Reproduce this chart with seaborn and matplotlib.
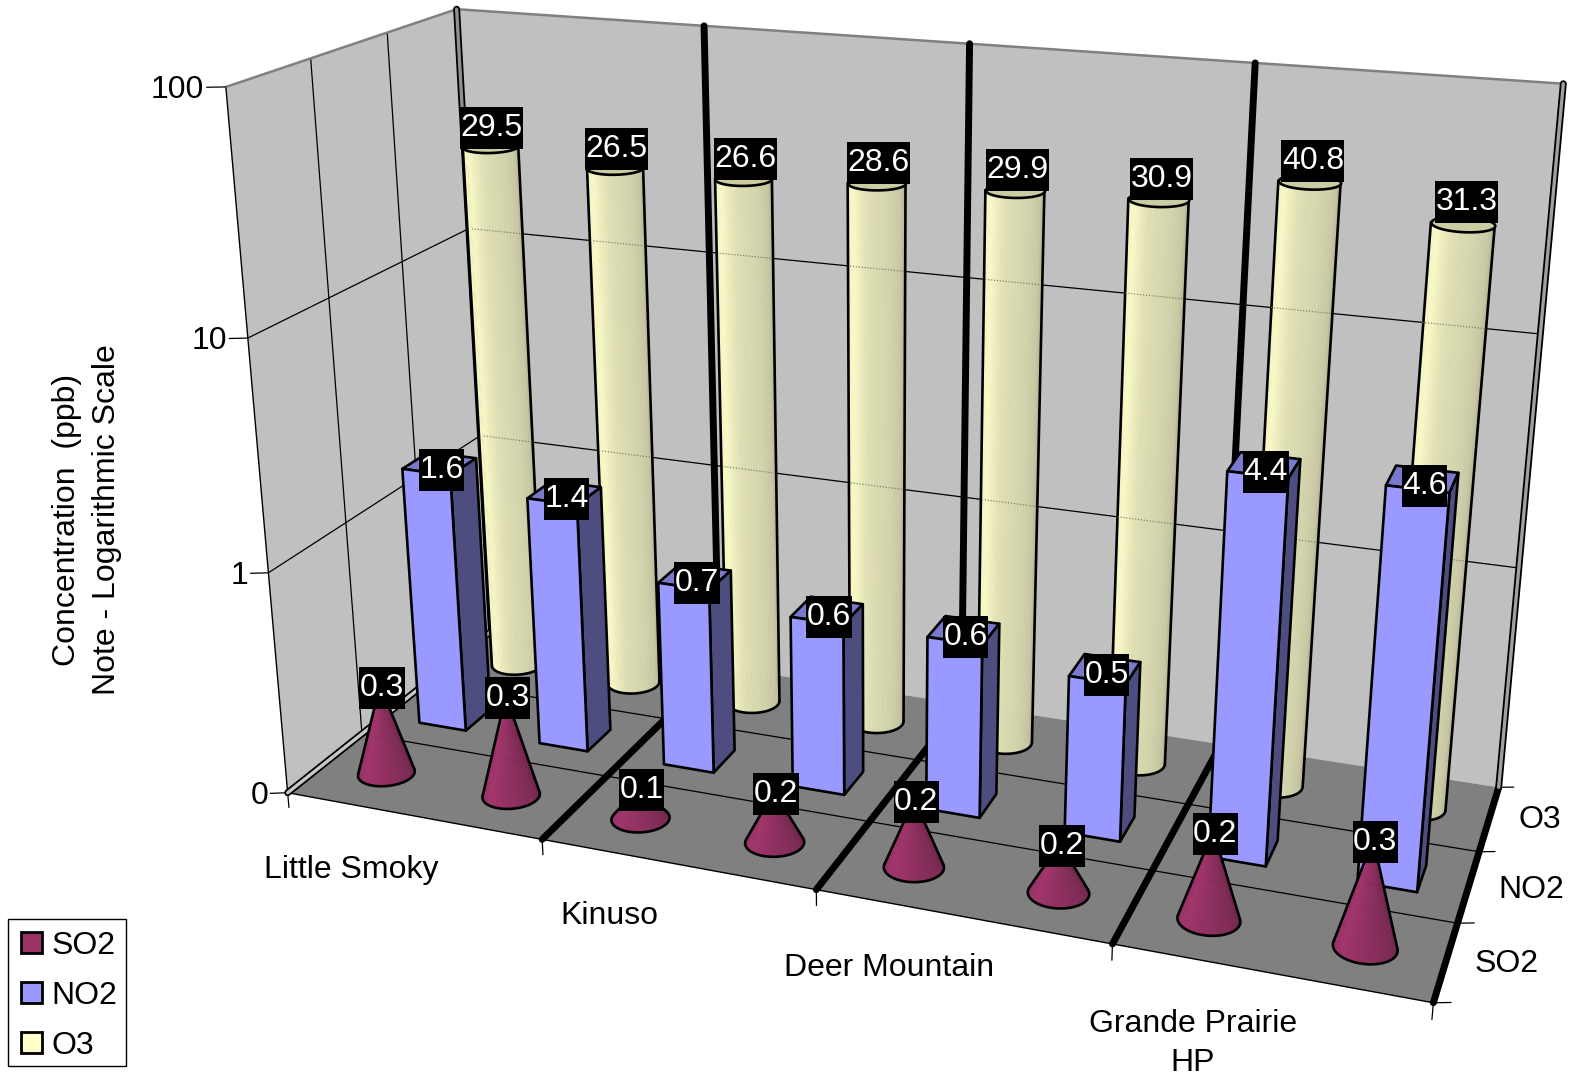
import numpy as np
import matplotlib
matplotlib.use('Agg')
import matplotlib.pyplot as plt
from matplotlib.patches import Patch
from matplotlib.path import Path
from mpl_toolkits.mplot3d import proj3d
from mpl_toolkits.mplot3d.art3d import Poly3DCollection
import seaborn as sns

# data
stations = ['Little Smoky', 'Kinuso', 'Deer Mountain', 'Grande Prairie\nHP']
gases = ['SO2', 'NO2', 'O3']
so2 = [0.26, 0.29, 0.14, 0.17, 0.20, 0.165, 0.24, 0.285]
no2 = [1.6, 1.4, 0.7, 0.6, 0.6, 0.5, 4.4, 4.6]
o3 = [29.5, 26.5, 26.6, 28.6, 29.9, 30.9, 40.8, 31.3]
z_ticks = [0.1, 1, 10, 100]
z_tick_labels = ['0', '1', '10', '100']
station_label_x = [1.0, 2.88, 4.78, 6.74]
station_label_y = [-0.81, -0.77, -0.75, -0.93]
gas_label_x = [8.36, 8.39, 8.33]

# camera: data point (column, gas, log10 value) -> pixel in the 1572x1076 picture
camera_fit = [
    ((0, 0, -1), (288, 792)), ((2, 0, -1), (543, 839)), ((4, 0, -1), (817, 890)),
    ((6, 0, -1), (1113, 945)), ((8, 0, -1), (1434, 1003)), ((8, 1, -1), (1457, 923)),
    ((8, 2, -1), (1477, 852)), ((8, 3, -1), (1500, 787)), ((4, 3, -1), (961, 704)),
    ((0, 3, -1), (491, 632)), ((0, 0, 2), (225, 88)), ((0, 0, 1), (247, 338)),
    ((0, 0, 0), (268, 571)), ((0, 1, 2), (311, 59)), ((0, 2, 2), (387, 33)),
    ((0, 3, 2), (457, 9)), ((2, 3, 2), (705, 25)), ((4, 3, 2), (970, 44)),
    ((6, 3, 2), (1255, 63)), ((8, 3, 2), (1563, 83)),
]

W, H = 1572, 1076
sns.set_theme(style='white')
plt.rcParams['font.family'] = ['Liberation Sans', 'DejaVu Sans']
FS = 23

fig = plt.figure(figsize=(W / 100, H / 100), dpi=100)
h = W / H
ax = fig.add_axes([0, 0.5 - h / 2, 1, h], projection='3d', proj_type='ortho', computed_zorder=False)
ax.set_axis_off()
ax.patch.set_alpha(0)
ax.apply_aspect()


def fit_camera():
    inv = ax.transData.inverted()
    rows = []
    for (x, y, z), (px, py) in camera_fit:
        u, v = inv.transform((px, H - py))
        rows.append([x, y, z, 1, 0, 0, 0, 0, -u * x, -u * y, -u * z, -u])
        rows.append([0, 0, 0, 0, x, y, z, 1, -v * x, -v * y, -v * z, -v])
    p = np.linalg.svd(np.array(rows))[2][-1].reshape(3, 4)
    if p[2] @ np.array([4, 1.5, 0.5, 1]) < 0:
        p = -p
    return np.array([p[0], p[1], [0, 1, 0, 0], p[2]])


M = fit_camera()
ax.get_proj = lambda: M
ax.M = M


def screen(x, y, z):
    px, py, _ = proj3d.proj_transform(np.asarray(x), np.asarray(y), np.asarray(z), M)
    return np.asarray(px), np.asarray(py)


def log_z(v):
    return np.log10(v)


def label(x, y, z, s, offset=(0, 0), **kw):
    px, py = screen(float(x), float(y), float(z))
    return ax.annotate(s, xy=(float(px), float(py)), xycoords='data', xytext=offset, textcoords='offset points',
                       fontsize=FS, va='center', zorder=20, **kw)


FLOOR = -1
TOP = 2
BLACK_LW = 5

# walls and floor
walls = [
    [(0, 0, FLOOR), (0, 3, FLOOR), (0, 3, TOP), (0, 0, TOP)],
    [(0, 3, FLOOR), (8, 3, FLOOR), (8, 3, TOP), (0, 3, TOP)],
]
ax.add_collection3d(Poly3DCollection(walls, facecolors='#c0c0c0', edgecolors='none', zorder=1))
ax.add_collection3d(Poly3DCollection([[(0, 0, FLOOR), (8, 0, FLOOR), (8, 3, FLOOR), (0, 3, FLOOR)]],
                                     facecolors='#808080', edgecolors='none', zorder=1))

# gridlines
for t in z_ticks[1:3]:
    z = log_z(t)
    ax.plot([0, 0, 8], [0, 3, 3], [z, z, z], color='black', lw=0.9, zorder=2)
for y in [1, 2]:
    ax.plot([0, 0], [y, y], [FLOOR, TOP], color='black', lw=0.9, zorder=2)
    ax.plot([0, 8], [y, y], [FLOOR, FLOOR], color='black', lw=0.9, zorder=2)
ax.plot([0, 0], [0, 0], [FLOOR, TOP], color='black', lw=1.0, zorder=2)
ax.plot([0, 8], [0, 0], [FLOOR, FLOOR], color='black', lw=1.0, zorder=2)
ax.plot([0, 0, 8], [0, 3, 3], [TOP, TOP, TOP], color='#808080', lw=1.8, zorder=2)

# thick station dividers
for x in [0, 2, 4, 6, 8]:
    ax.plot([x, x], [0, 3], [FLOOR, FLOOR], color='black', lw=BLACK_LW, solid_capstyle='round', zorder=2.1)
    ax.plot([x, x], [3, 3], [FLOOR, TOP], color='black', lw=BLACK_LW, solid_capstyle='round', zorder=2.1)
ax.plot([0, 0], [0, 3], [FLOOR, FLOOR], color='#c8c8c8', lw=2.4, zorder=2.2)
ax.plot([0, 0], [3, 3], [FLOOR, TOP], color='#909090', lw=2.4, zorder=2.2)
ax.plot([8, 8], [3, 3], [FLOOR, TOP], color='#a0a0a0', lw=2.4, zorder=2.2)

# tick marks
for t in z_ticks:
    z = log_z(t)
    ax.plot([0, -0.11], [0, -0.05], [z, z], color='black', lw=0.9, zorder=2)
for x in [0, 2, 4, 6, 8]:
    ax.plot([x, x], [0, 0], [FLOOR, FLOOR - 0.07], color='black', lw=0.9, zorder=2)
for y in [0, 1, 2, 3]:
    ax.plot([8, 8.1], [y, y + 0.04], [FLOOR, FLOOR], color='black', lw=0.9, zorder=2)

R = 0.2
order = 3.0


def next_z():
    global order
    order += 0.01
    return order


def front_arc(cx, cy, theta_l, theta_r, n=50):
    t = np.linspace(theta_l, theta_r, n)
    return cx + R * np.cos(t), cy + R * np.sin(t)


def circle_angles():
    return np.linspace(np.pi * 0.5, np.pi * 2.5, 361)[:-1]


def surface(xs, ys, zs, palette):
    colors = np.array(sns.blend_palette(palette, xs.shape[1]))
    colors = np.c_[colors, np.ones(len(colors))]
    fc = np.repeat(colors[None, :, :], xs.shape[0], axis=0)
    ax.plot_surface(xs, ys, zs, facecolors=fc, shade=False, rstride=1, cstride=1,
                    linewidth=0.4, zorder=next_z())


O3_SHADE = ['#f0f0c0', '#fbfbc8', '#e0e0b4', '#d6d6ae', '#c8c8a4', '#9f9f80']
SO2_SHADE = ['#8f2f60', '#a3356c', '#8f2f60', '#7d2a55', '#632145']

# O3 cylinders
wall_x = np.linspace(0, 8, 801)
for i, v in enumerate(o3):
    cx, cy, zt = i + 0.5, 2.5, log_z(v)
    t = circle_angles()
    bx, by = cx + R * np.cos(t), cy + R * np.sin(t)
    sx, sy = screen(bx, by, np.full(t.size, float(FLOOR)))
    tx, ty = screen(bx, by, np.full(t.size, zt))
    ax_dir = np.array([tx.mean() - sx.mean(), ty.mean() - sy.mean()])
    s = sx * ax_dir[1] - sy * ax_dir[0]
    tl, tr = t[np.argmin(s)], t[np.argmax(s)]
    tr = tr if tr > tl else tr + 2 * np.pi
    ax_x, ax_y = front_arc(cx, cy, tl, tr)
    xs = np.array([ax_x, ax_x])
    ys = np.array([ax_y, ax_y])
    zs = np.array([np.full(ax_x.size, float(FLOOR)), np.full(ax_x.size, zt)])
    surface(xs, ys, zs, O3_SHADE)
    ax.plot(ax_x, ax_y, FLOOR, color='black', lw=1.9, zorder=next_z())
    for k in [0, -1]:
        ax.plot([ax_x[k], ax_x[k]], [ax_y[k], ax_y[k]], [FLOOR, zt], color='black', lw=1.9, zorder=next_z())
    ax.add_collection3d(Poly3DCollection([list(zip(bx, by, np.full(t.size, zt)))], facecolors='#cccca3',
                                         edgecolors='black', linewidths=1.9, zorder=next_z()))
    # wall gridlines faintly seen through the cylinder
    for g in z_ticks[1:3]:
        zg = log_z(g)
        wx = screen(wall_x, np.full(wall_x.size, 3.0), np.full(wall_x.size, zg))[0]
        edges = screen(np.array([cx - R, cx + R]), np.array([cy, cy]), np.array([zg, zg]))[0]
        ax.plot(np.interp(edges, wx, wall_x), [3, 3], [zg, zg], color='#777766', lw=0.8, ls=':', zorder=next_z())

# NO2 bars
BW, BD = 0.39, 0.38
for i, v in enumerate(no2):
    x0, x1 = i + 0.5 - BW / 2, i + 0.5 + BW / 2
    y0, y1 = 1.5 - BD / 2, 1.5 + BD / 2
    zt = log_z(v)
    faces = [
        [(x0, y0, zt), (x1, y0, zt), (x1, y1, zt), (x0, y1, zt)],
        [(x0, y0, FLOOR), (x1, y0, FLOOR), (x1, y0, zt), (x0, y0, zt)],
        [(x1, y0, FLOOR), (x1, y1, FLOOR), (x1, y1, zt), (x1, y0, zt)],
    ]
    ax.add_collection3d(Poly3DCollection(faces, facecolors=['#7a7acc', '#9999ff', '#4d4d80'],
                                         edgecolors='black', linewidths=1.9, zorder=next_z()))

# SO2 cones
for i, v in enumerate(so2):
    cx, cy, zt = i + 0.5, 0.5, log_z(v)
    t = circle_angles()
    bx, by = cx + R * np.cos(t), cy + R * np.sin(t)
    sx, sy = screen(bx, by, np.full(t.size, float(FLOOR)))
    ax0, ay0 = screen(cx, cy, zt)
    ang = np.arctan2(sx - ax0, ay0 - sy)
    tl, tr = t[np.argmin(ang)], t[np.argmax(ang)]
    tr = tr if tr > tl else tr + 2 * np.pi
    ax_x, ax_y = front_arc(cx, cy, tl, tr)
    xs = np.array([ax_x, np.full(ax_x.size, cx)])
    ys = np.array([ax_y, np.full(ax_x.size, cy)])
    zs = np.array([np.full(ax_x.size, float(FLOOR)), np.full(ax_x.size, zt)])
    surface(xs, ys, zs, SO2_SHADE)
    ax.plot(ax_x, ax_y, FLOOR, color='black', lw=1.9, zorder=next_z())
    for k in [0, -1]:
        ax.plot([ax_x[k], cx], [ax_y[k], cy], [FLOOR, zt], color='black', lw=1.9, zorder=next_z())


def label_box(x0, y0, w, h, mutation_size):
    # text bbox with more padding above and below than at the sides
    pad_x, pad_y = 0.5, 6
    x0, x1 = x0 - pad_x, x0 + w + pad_x
    y0, y1 = y0 - pad_y, y0 + h + pad_y
    return Path([(x0, y0), (x1, y0), (x1, y1), (x0, y1), (x0, y0)], closed=True)


# value labels
box = dict(boxstyle=label_box, facecolor='black', edgecolor='black', linewidth=0)
lift = {'SO2': 0.0, 'NO2': -0.015, 'O3': 0.095}
for gas, vals, y in zip(gases, [so2, no2, o3], [0.5, 1.5, 2.5]):
    for i, v in enumerate(vals):
        label(i + 0.5, y, log_z(v) + lift[gas], f'{v:.1f}', offset=(1.5, -2), color='white', ha='center', bbox=box)

# axis labels
for t, lab in zip(z_ticks, z_tick_labels):
    label(-0.125, -0.055, log_z(t), lab, offset=(0, -2), color='black', ha='right')
for x, y, st in zip(station_label_x, station_label_y, stations):
    label(x, y, FLOOR, st, color='black', ha='center', linespacing=1.42)
for x, gas, y in zip(gas_label_x, gases, [0.6, 1.6, 2.6]):
    label(x, y, FLOOR, gas, color='black', ha='center')

fig.text(87 / W, 1 - 520 / H, 'Concentration  (ppb)\nNote - Logarithmic Scale', rotation=90,
         color='black', fontsize=FS, ha='center', va='center', linespacing=1.4)

handles = [Patch(facecolor=c, edgecolor='black', linewidth=2) for c in ['#993366', '#9999ff', '#ffffcc']]
leg = fig.legend(handles, gases, loc='lower left', bbox_to_anchor=(8 / W, 1 - 1066 / H), borderaxespad=0,
                 fontsize=FS, frameon=True, fancybox=False, edgecolor='black', framealpha=1,
                 handlelength=0.77, handleheight=0.65, handletextpad=0.3, labelspacing=0.62,
                 borderpad=0.28, labelcolor='black')
leg.get_frame().set_linewidth(1)
# swatches and names sit a little lower and further right inside the frame
for p in leg.get_patches():
    w0 = p.get_width()
    p.set_width(w0 * 0.65 / 0.77)
    p.set_x(p.get_x() + 2.8)
    p.set_y(p.get_y() - 2.4)
for txt in leg.get_texts():
    txt.set_y(txt.get_position()[1] - 3.5)

fig.savefig('out.png', dpi=100)
